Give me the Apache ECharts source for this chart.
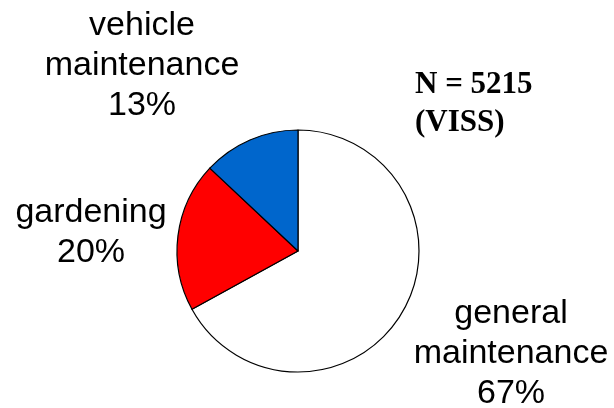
<!DOCTYPE html>
<html>
<head>
<meta charset="utf-8">
<script src="https://cdn.jsdelivr.net/npm/echarts@6/dist/echarts.min.js"></script>
<style>
html,body{margin:0;padding:0;background:#fff;}
#c{width:614px;height:408px;}
</style>
</head>
<body>
<div id="c"></div>
<script>
// Data
const categories = ['general maintenance', 'gardening', 'vehicle maintenance'];
const percents = [67, 20, 13];
const sampleSize = 5215;
const sourceName = 'VISS';

// Styles / layout (not data)
const sliceColors = ['#ffffff', '#ff0000', '#0066cc'];
const labelPos = [[511, 354], [91, 233], [142, 66]];

const chart = echarts.init(document.getElementById('c'), null, {renderer: 'canvas'});
chart.setOption({
  animation: false,
  backgroundColor: '#ffffff',
  title: {
    text: 'N = ' + sampleSize + '\n(' + sourceName + ')',
    left: 415,
    top: 66,
    padding: 0,
    textStyle: {
      fontFamily: 'Liberation Serif',
      fontWeight: 'bold',
      fontSize: 31,
      lineHeight: 38,
      color: '#000'
    }
  },
  series: [{
    type: 'pie',
    center: [298, 251],
    radius: [0, 121],
    startAngle: 90,
    clockwise: true,
    silent: true,
    data: categories.map((n, i) => ({
      name: n,
      value: percents[i],
      itemStyle: {color: sliceColors[i]}
    })),
    itemStyle: {borderColor: '#000', borderWidth: 1.2},
    label: {
      show: true,
      position: 'outside',
      overflow: 'none',
      formatter: p => p.name.replace(' ', '\n') + '\n' + p.value + '%',
      fontFamily: 'Liberation Sans',
      fontSize: 34,
      lineHeight: 40,
      color: '#000',
      align: 'center'
    },
    labelLine: {show: false},
    labelLayout: p => ({
      x: labelPos[p.dataIndex][0],
      y: labelPos[p.dataIndex][1],
      align: 'center',
      verticalAlign: 'middle'
    }),
    emphasis: {disabled: true}
  }]
});
</script>
</body>
</html>
